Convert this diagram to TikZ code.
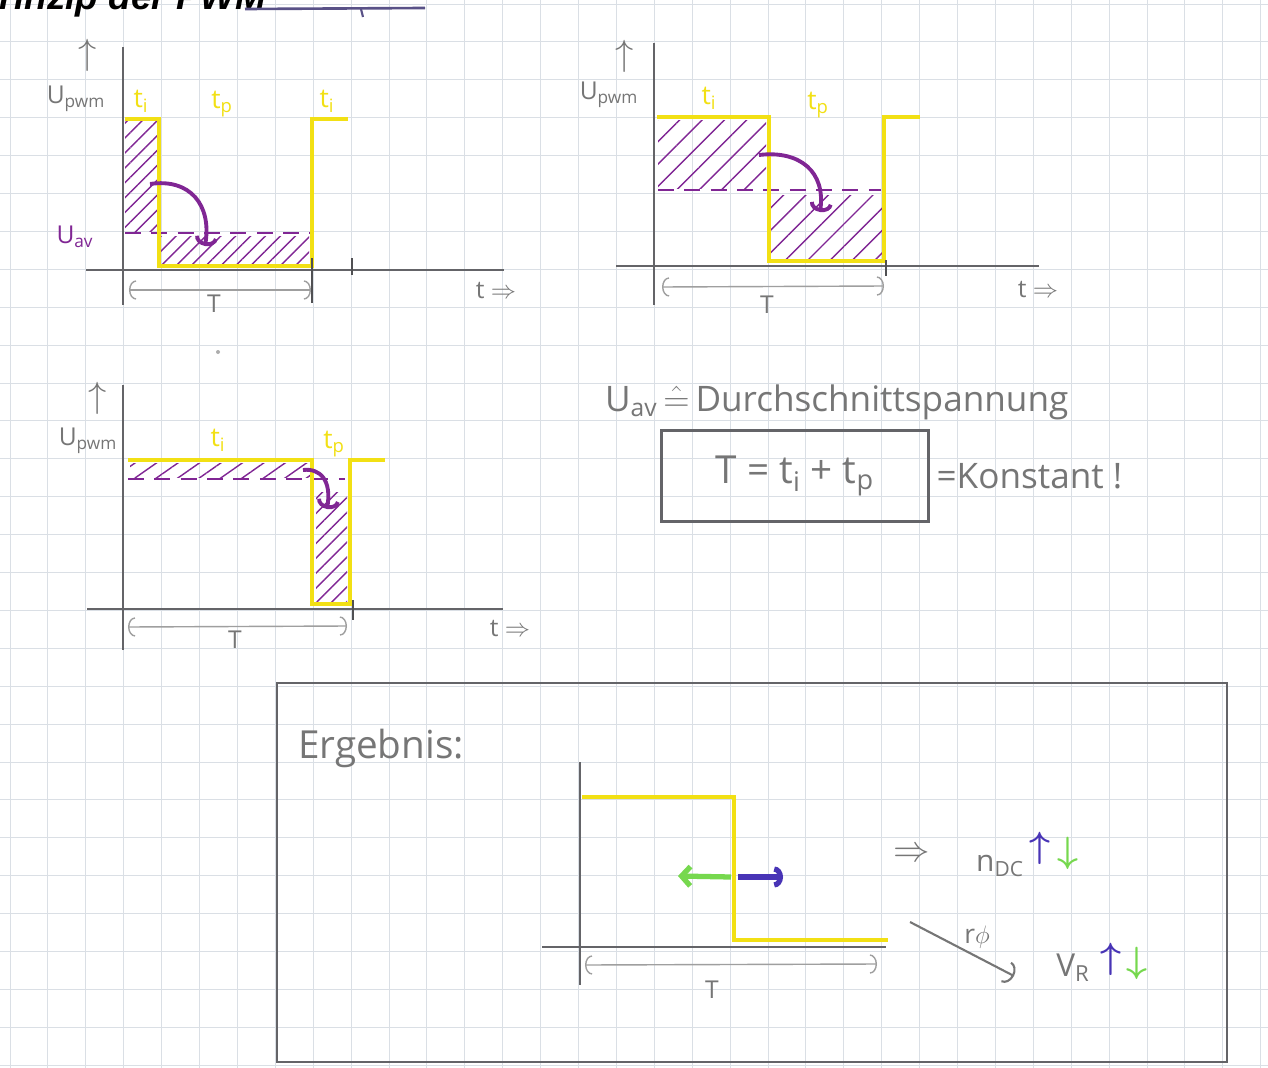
\documentclass[tikz,border=0pt]{standalone}
\usepackage{fontspec}
\setmainfont{Open Sans}
\newfontfamily\titlefont{Liberation Sans}
\usetikzlibrary{positioning,arrows.meta,patterns.meta}
\definecolor{pencil}{RGB}{118,118,118}
\definecolor{lead}{RGB}{100,100,104}
\definecolor{raster}{RGB}{218,223,229}
\definecolor{signal}{RGB}{242,224,20}
\definecolor{lila}{RGB}{128,38,148}
\definecolor{gruen}{RGB}{118,216,78}
\definecolor{blau}{RGB}{72,52,182}
\newcommand{\idx}[1]{\textsubscript{#1}}

\begin{document}
\begin{tikzpicture}[x=0.02cm, y=-0.02cm,
  hand/.style={text=pencil, inner sep=1pt, font=\fontsize{14}{16}\selectfont},
  yel/.style={hand, text=signal, font=\fontsize{15}{17}\selectfont},
  lilatext/.style={hand, text=lila},
  gridline/.style={draw=raster, line width=.5pt},
  axis/.style={draw=lead, line width=1.3pt},
  tick/.style={draw=lead!80!black, line width=1.3pt},
  wave/.style={draw=signal, line width=2pt, line join=miter},
  avg/.style={draw=lila, line width=1.6pt, dash pattern=on 9pt off 6pt},
  hatched/.style={pattern={Lines[angle=45,distance=6pt,line width=.8pt]}, pattern color=lila},
  movearrow/.style={draw=lila, line width=2.2pt, -{Arc Barb[length=5pt, width=13pt]}},
  dim/.style={draw=pencil!70, line width=.8pt,
              {Arc Barb[length=4pt, width=11pt]}-{Arc Barb[length=4pt, width=11pt]}},
  pencilarrow/.style={draw=pencil, line width=1.2pt, -{Arc Barb[length=5pt, width=13pt]}},
  frame/.style={draw=lead, line width=1.4pt}]
\useasboundingbox (0,0) rectangle (1268,1068);
\clip (0,0) rectangle (1268,1068);
\fill[white] (0,0) rectangle (1268,1068);
\foreach \k in {0,...,33}
  \draw[gridline] ({10+37.9*\k},0) -- ({10+37.9*\k},1068);
\foreach \k in {0,...,28}
  \draw[gridline] (0,{4+37.9*\k}) -- (1268,{4+37.9*\k});

\node[anchor=base west, inner sep=0pt,
  font=\titlefont\bfseries\itshape\fontsize{21}{24}\selectfont] (titel) at (-25,10) {Prinzip der PWM};
\draw[draw=lead!60!blau, line width=1.5pt] (245,9) -- (425,8);
\draw[draw=lead!60!blau, line width=1.2pt] (361,9) -- (363,17);

% first plot
\draw[axis] (123,47) -- (123,305);
\draw[axis] (86,270) -- (504,270);
\fill[hatched] (125,122) rectangle (157,231);
\fill[hatched] (161,236) rectangle (309,263);
\draw[avg] (125,233) -- (310,233);
\draw[wave] (125,119) -| (159,266) -| (312,119) -- (348,119);
\coordinate (s1a) at (150,184);
\coordinate (s1b) at (205,246);
\draw[movearrow] (s1a) .. controls (190,178) and (212,205) .. (s1b);
\coordinate (T1l) at (129,290);
\coordinate (T1r) at (311,290);
\draw[dim] (T1l) -- (T1r);
\draw[tick] (312,258) -- (312,303);
\draw[tick] (352,258) -- (352,275);
\node[hand, font=\fontsize{20}{22}\selectfont] (up1) at (88,55) {$\uparrow$};
\node[hand] (pwm1) at (76,99) {U\idx{pwm}};
\node[yel] (ti1) at (141,101) {t\idx{i}};
\node[yel] (tp1) at (222,104) {t\idx{p}};
\node[yel] (ti1b) at (327,101) {t\idx{i}};
\node[lilatext] (uav1) at (75,237) {U\idx{av}};
\node[hand] (T1) at (214,304) {T};
\node[hand] (t1) at (496,291) {t $\Rightarrow$};
\fill[pencil!60] (218,352) circle (2);

% second plot
\draw[axis] (654,43) -- (654,305);
\draw[axis] (616,266) -- (1039,266);
\fill[hatched, pattern={Lines[angle=45,distance=9pt,line width=.8pt]}] (658,121) rectangle (766,188);
\fill[hatched, pattern={Lines[angle=45,distance=9pt,line width=.8pt]}] (771,195) rectangle (882,258);
\draw[avg] (658,190) -- (881,190);
\draw[wave] (657,117) -| (769,261) -| (884,117) -- (920,117);
\coordinate (s2a) at (759,155);
\coordinate (s2b) at (820,212);
\draw[movearrow] (s2a) .. controls (800,150) and (826,172) .. (s2b);
\coordinate (T2l) at (662,287);
\coordinate (T2r) at (884,286);
\draw[dim] (T2l) -- (T2r);
\draw[tick] (886,260) -- (886,276);
\node[hand, font=\fontsize{20}{22}\selectfont] (up2) at (625,56) {$\uparrow$};
\node[hand] (pwm2) at (609,95) {U\idx{pwm}};
\node[yel] (ti2) at (709,98) {t\idx{i}};
\node[yel] (tp2) at (818,105) {t\idx{p}};
\node[hand] (T2) at (767,305) {T};
\node[hand] (t2) at (1038,290) {t $\Rightarrow$};

% third plot
\draw[axis] (123,385) -- (123,650);
\draw[axis] (87,609) -- (503,609);
\fill[hatched, pattern={Lines[angle=35,distance=7pt,line width=.8pt]}] (130,463) rectangle (310,477);
\fill[hatched] (316,492) rectangle (347,601);
\draw[avg] (128,479) -- (345,479);
\draw[wave] (128,460) -| (312,604) -| (350,460) -- (385,460);
\coordinate (s3a) at (303,470);
\coordinate (s3b) at (327,509);
\draw[movearrow] (s3a) .. controls (320,468) and (332,480) .. (s3b);
\coordinate (T3l) at (128,627);
\coordinate (T3r) at (347,626);
\draw[dim] (T3l) -- (T3r);
\draw[tick] (353,600) -- (353,620);
\node[hand, font=\fontsize{20}{22}\selectfont] (up3) at (98,398) {$\uparrow$};
\node[hand] (pwm3) at (88,441) {U\idx{pwm}};
\node[yel] (ti3) at (218,440) {t\idx{i}};
\node[yel] (tp3) at (334,444) {t\idx{p}};
\node[hand] (T3) at (235,640) {T};
\node[hand] (t3) at (510,629) {t $\Rightarrow$};

% definition and period
\node[hand, anchor=west, font=\fontsize{20}{24}\selectfont] (durch) at (603,402)
  {U\idx{av}\,$\hat{=}$\,Durchschnittspannung};
\node[hand, draw=lead, line width=1.2pt, minimum width=5.34cm, minimum height=1.82cm,
  font=\fontsize{22}{26}\selectfont] (formel) at (795,476) {T = t\idx{i} + t\idx{p}};
\node[hand, right=1mm of formel, font=\fontsize{20}{24}\selectfont] (konst) {=Konstant !};

% result
\draw[frame] (277,683) rectangle (1227,1062);
\node[hand, anchor=west, font=\fontsize{22}{26}\selectfont] (ergebnis) at (296,748) {Ergebnis:};
\draw[axis] (580,762) -- (580,985);
\draw[axis] (542,947) -- (886,947);
\draw[wave] (582,797) -| (734,940) -- (888,940);
\coordinate (T4l) at (585,965);
\coordinate (T4r) at (877,964);
\draw[dim] (T4l) -- (T4r);
\node[hand] (T4) at (712,990) {T};
\coordinate (gruenA) at (731,877);
\coordinate (gruenB) at (678,876);
\draw[draw=gruen, line width=3pt, -{Straight Barb[length=5pt, width=11pt]}] (gruenA) -- (gruenB);
\coordinate (blauA) at (738,877);
\coordinate (blauB) at (783,877);
\draw[draw=blau, line width=3pt, -{Arc Barb[length=5pt, width=12pt]}] (blauA) -- (blauB);
\node[hand, font=\fontsize{22}{24}\selectfont] (folgt) at (912,855) {$\Rightarrow$};
\node[hand, font=\fontsize{17}{20}\selectfont] (ndc) at (1000,866) {n\idx{DC}};
\node[text=blau, font=\boldmath\fontsize{20}{22}\selectfont, inner sep=0pt] (ndcup) at (1040,848) {$\uparrow$};
\node[text=gruen, font=\boldmath\fontsize{20}{22}\selectfont, inner sep=0pt] (ndcdown) at (1068,853) {$\downarrow$};
\coordinate (rA) at (910,922);
\coordinate (rB) at (1014,976);
\draw[pencilarrow] (rA) -- (rB);
\node[hand, font=\fontsize{15}{18}\selectfont] (rphi) at (977,937) {r$\phi$};
\node[hand, font=\fontsize{18}{20}\selectfont] (vr) at (1073,968) {V\idx{R}};
\node[text=blau, font=\boldmath\fontsize{20}{22}\selectfont, inner sep=0pt] (vrup) at (1111,959) {$\uparrow$};
\node[text=gruen, font=\boldmath\fontsize{20}{22}\selectfont, inner sep=0pt] (vrdown) at (1137,963) {$\downarrow$};
\end{tikzpicture}
\end{document}
